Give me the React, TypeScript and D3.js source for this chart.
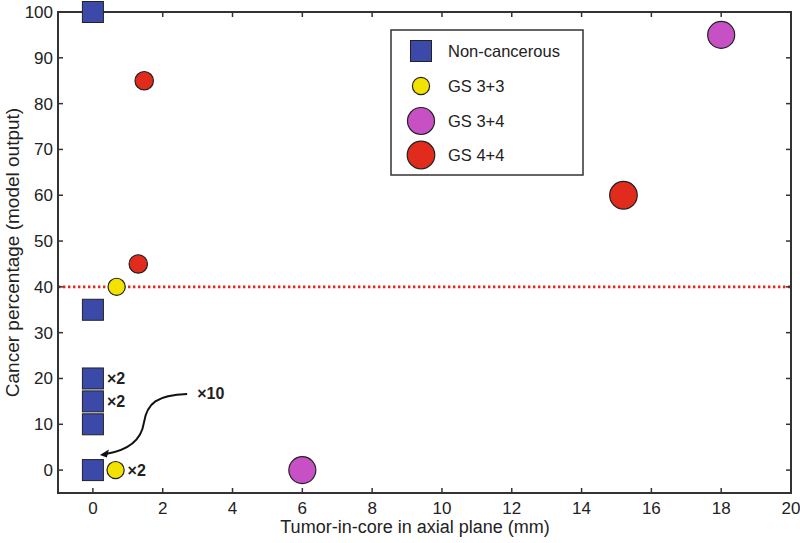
import React from "react";
import * as d3 from "d3";

// ---- data ----
const nonCancerousX = [0, 0, 0, 0, 0, 0];
const nonCancerousY = [100, 35, 20, 15, 10, 0];
const gs33X = [0.68, 0.65];
const gs33Y = [40, 0];
const gs34X = [6, 18];
const gs34Y = [0, 95];
const gs44X = [1.47, 1.3, 15.2];
const gs44Y = [85, 45, 60];
const gs44Big = [false, false, true];
const xTicks = [0, 2, 4, 6, 8, 10, 12, 14, 16, 18, 20];
const yTicks = [0, 10, 20, 30, 40, 50, 60, 70, 80, 90, 100];
const threshold = 40;
const multiplierLabels = [
  { x: 0, y: 20, text: "×2" },
  { x: 0, y: 15, text: "×2" },
  { x: 0.65, y: 0, text: "×2" },
];
const arrowLabel = { x: 2.7, y: 16.6, text: "×10" };
const legendItems = ["Non-cancerous", "GS 3+3", "GS 3+4", "GS 4+4"];

const W = 800;
const H = 543;
const M = { left: 58, right: 9, top: 12, bottom: 50 };

const BLUE = "#3b4aa8";
const YELLOW = "#f3e100";
const MAGENTA = "#c751c4";
const RED = "#e12b1c";
const STROKE = "#222";
const AXIS = "#333";
const FONT = "'Liberation Sans', Arial, Helvetica, sans-serif";

export default function App() {
  const x = d3.scaleLinear().domain([-1, 20]).range([M.left, W - M.right]);
  const y = d3.scaleLinear().domain([-5, 100]).range([H - M.bottom, M.top]);
  const x0 = M.left, x1 = W - M.right, y0 = H - M.bottom, y1 = M.top;
  const sq = 21;
  const rSmall = 8.6;
  const rMid = 9.2;
  const rBig = 13.5;
  const tk = 5;

  // arrow path in data coordinates
  const ax0 = x(2.7), ay0 = y(16.6);
  const axm = x(1.46), aym = y(10.3);
  const ax1 = x(0.2), ay1 = y(3.3);
  const arrowPath = `M${ax0},${ay0} C${ax0 - 30},${ay0 + 1} ${axm + 3},${aym - 20} ${axm},${aym} C${axm - 3},${aym + 20} ${ax1 + 24},${ay1 - 4} ${ax1 + 6},${ay1 - 1}`;

  const legX = 391, legY = 30, legW = 192, legH = 145;
  const legMX = 421, legTX = 448;
  const legRowY = [51, 86, 121, 155];

  return (
    <svg
      width={W}
      height={H}
      style={{ position: "absolute", left: 0, top: 0, background: "#fff" }}
      fontFamily={FONT}
    >
      <rect x={0} y={0} width={W} height={H} fill="#fff" />
      {/* threshold line */}
      <line
        x1={x0}
        x2={x1}
        y1={y(threshold)}
        y2={y(threshold)}
        stroke="#e8261c"
        strokeWidth={2.6}
        strokeDasharray="2.4,2.6"
      />
      {/* axes box */}
      <rect x={x0} y={y1} width={x1 - x0} height={y0 - y1} fill="none" stroke={AXIS} strokeWidth={2} />
      {xTicks.map((t) => (
        <g key={"xt" + t}>
          <line x1={x(t)} x2={x(t)} y1={y0} y2={y0 - tk} stroke={AXIS} strokeWidth={1.5} />
          <line x1={x(t)} x2={x(t)} y1={y1} y2={y1 + tk} stroke={AXIS} strokeWidth={1.5} />
          <text x={x(t)} y={y0 + 21} textAnchor="middle" fontSize={17} fill="#222">
            {t}
          </text>
        </g>
      ))}
      {yTicks.map((t) => (
        <g key={"yt" + t}>
          <line x1={x0} x2={x0 + tk} y1={y(t)} y2={y(t)} stroke={AXIS} strokeWidth={1.5} />
          <line x1={x1} x2={x1 - tk} y1={y(t)} y2={y(t)} stroke={AXIS} strokeWidth={1.5} />
          <text x={x0 - 5} y={y(t) + 6} textAnchor="end" fontSize={17} fill="#222">
            {t}
          </text>
        </g>
      ))}
      {/* axis labels */}
      <text x={415} y={533} textAnchor="middle" fontSize={18} fill="#222">
        Tumor-in-core in axial plane (mm)
      </text>
      <text
        transform={`translate(19,${(y0 + y1) / 2}) rotate(-90)`}
        textAnchor="middle"
        fontSize={19}
        fill="#222"
      >
        Cancer percentage (model output)
      </text>

      {/* data */}
      {nonCancerousY.map((v, i) => (
        <rect
          key={"nc" + i}
          x={x(nonCancerousX[i]) - sq / 2}
          y={y(v) - sq / 2}
          width={sq}
          height={sq}
          fill={BLUE}
          stroke={STROKE}
          strokeWidth={1}
        />
      ))}
      {gs33Y.map((v, i) => (
        <circle key={"g33" + i} cx={x(gs33X[i])} cy={y(v)} r={rSmall} fill={YELLOW} stroke={STROKE} strokeWidth={1.2} />
      ))}
      {gs34Y.map((v, i) => (
        <circle key={"g34" + i} cx={x(gs34X[i])} cy={y(v)} r={rBig} fill={MAGENTA} stroke={STROKE} strokeWidth={1.2} />
      ))}
      {gs44Y.map((v, i) => (
        <circle
          key={"g44" + i}
          cx={x(gs44X[i])}
          cy={y(v)}
          r={gs44Big[i] ? rBig + 0.3 : rMid}
          fill={RED}
          stroke={STROKE}
          strokeWidth={1.2}
        />
      ))}

      {/* annotations */}
      {multiplierLabels.map((m, i) => (
        <text
          key={"ml" + i}
          x={x(m.x) + (m.x === 0 ? 14 : 12)}
          y={y(m.y) + 5.5}
          fontSize={16}
          fontWeight="bold"
          fill="#222"
        >
          {m.text}
        </text>
      ))}
      <path d={arrowPath} fill="none" stroke="#111" strokeWidth={2} />
      <path
        d={`M${ax1},${ay1} L${ax1 + 9},${ay1 - 5.5} L${ax1 + 7},${ay1 + 2.5} Z`}
        fill="#111"
      />
      <text x={x(arrowLabel.x) + 10} y={y(arrowLabel.y) + 5} fontSize={16} fontWeight="bold" fill="#222">
        {arrowLabel.text}
      </text>

      {/* legend */}
      <rect x={legX} y={legY} width={legW} height={legH} fill="#fff" stroke={AXIS} strokeWidth={1.5} />
      <rect x={legMX - 10.5} y={legRowY[0] - 10.5} width={21} height={21} fill={BLUE} stroke={STROKE} strokeWidth={1} />
      <circle cx={legMX} cy={legRowY[1]} r={rSmall} fill={YELLOW} stroke={STROKE} strokeWidth={1.2} />
      <circle cx={legMX} cy={legRowY[2]} r={rBig} fill={MAGENTA} stroke={STROKE} strokeWidth={1.2} />
      <circle cx={legMX} cy={legRowY[3]} r={rBig + 0.3} fill={RED} stroke={STROKE} strokeWidth={1.2} />
      {legendItems.map((l, i) => (
        <text key={"lg" + i} x={legTX} y={legRowY[i] + 6} fontSize={16.5} fill="#222">
          {l}
        </text>
      ))}
    </svg>
  );
}
